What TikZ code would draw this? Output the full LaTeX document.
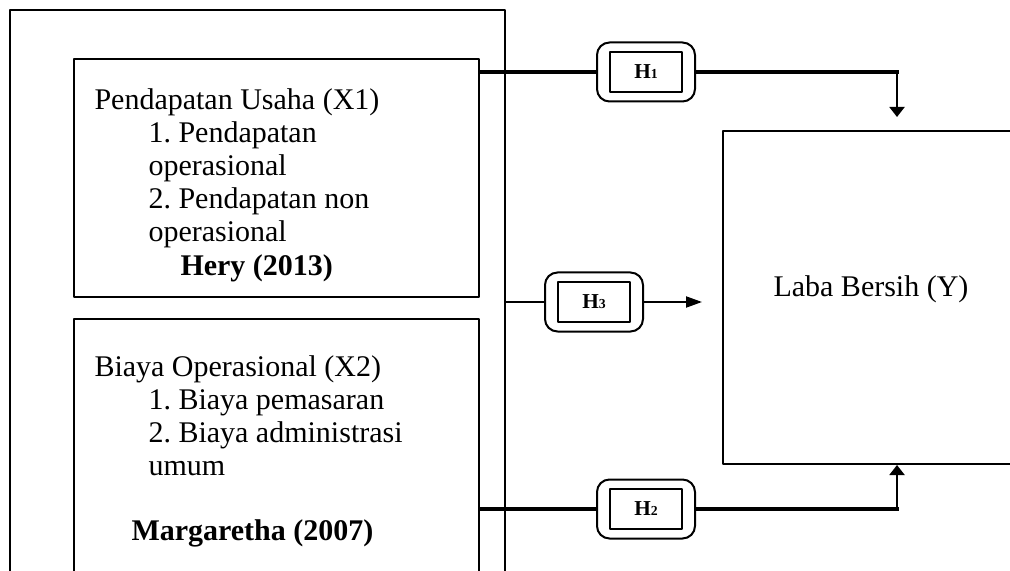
\documentclass[tikz,border=0pt]{standalone}
\usepackage{fontspec}
\setmainfont{Liberation Serif}
\usetikzlibrary{arrows.meta,fit}
\frenchspacing

\begin{document}
\begin{tikzpicture}[line join=round,x=0.4pt,y=-0.4pt,
  frame/.style={draw,line width=0.8pt,inner sep=0pt},
  txt/.style={anchor=base west,inner sep=0pt,font=\fontsize{12}{14}\selectfont},
  hout/.style={draw,line width=0.8pt,rounded corners=5pt,minimum width=39.2pt,minimum height=23.6pt,inner sep=0pt},
  hin/.style={draw,line width=0.8pt,minimum width=28.8pt,minimum height=16pt,inner sep=0pt,font=\fontsize{8.5}{8.5}\selectfont\bfseries},
  heavy/.style={line width=1.6pt,line cap=rect},
  link/.style={line width=0.8pt,-{Triangle[width=6pt,length=4pt]}}]
                \useasboundingbox (0,0) rectangle (1010,571);
                \clip (0,0) rectangle (1010,571);
                \node[frame,line width=1pt,fit={(10,10) (505,620)}] (outer) {};
                \node[frame,fit={(74,59) (479,297)}] (x1box) {};
                \node[frame,fit={(74,319) (479,620)}] (x2box) {};
                \node[frame,fit={(723,131) (1030,464)}] (ybox) {};
                \node[txt] (x1title) at (94,110) {Pendapatan Usaha (X1)};
                \node[txt] (x1a) at (148,143) {1. Pendapatan};
                \node[txt] (x1b) at (148,176) {operasional};
                \node[txt] (x1c) at (148,209) {2. Pendapatan non};
                \node[txt] (x1d) at (148,242) {operasional};
                \node[txt] (x1src) at (180,276) {\textbf{Hery (2013)}};
                \node[txt] (x2title) at (94,376) {Biaya Operasional (X2)};
                \node[txt] (x2a) at (148,409) {1. Biaya pemasaran};
                \node[txt] (x2b) at (148,442) {2. Biaya administrasi};
                \node[txt] (x2c) at (148,475) {umum};
                \node[txt] (x2src) at (131,540) {\textbf{Margaretha (2007)}};
                \node[txt] (ylabel) at (773,297) {Laba Bersih (Y)};
                \node[hout] (h1) at (646,72) {};
                \node[hin] (h1in) at (h1) {H{\fontsize{5.5}{5.5}\selectfont 1}};
                \node[hout] (h3) at (594,302) {};
                \node[hin] (h3in) at (h3) {H{\fontsize{5.5}{5.5}\selectfont 3}};
                \node[hout] (h2) at (646,509) {};
                \node[hin] (h2in) at (h2) {H{\fontsize{5.5}{5.5}\selectfont 2}};
                \coordinate (y1in) at (897,117);
                \coordinate (y2in) at (ybox.south -| y1in);
                \coordinate (y3in) at (702,302);
                \draw[heavy] (x1box.east |- h1.west) -- (h1.west);
                \draw[heavy] (h1.east) -- (h1.east -| y1in);
                \draw[link] (h1.east -| y1in) -- (y1in);
                \draw[line width=0.8pt] (outer.east |- h3.west) -- (h3.west);
                \draw[line width=0.8pt,-{Triangle[width=4.4pt,length=6.4pt]}] (h3.east) -- (y3in);
                \draw[heavy] (x2box.east |- h2.west) -- (h2.west);
                \draw[heavy] (h2.east) -- (h2.east -| y2in);
                \draw[link] (h2.east -| y2in) -- (y2in);
            \end{tikzpicture}
\end{document}
